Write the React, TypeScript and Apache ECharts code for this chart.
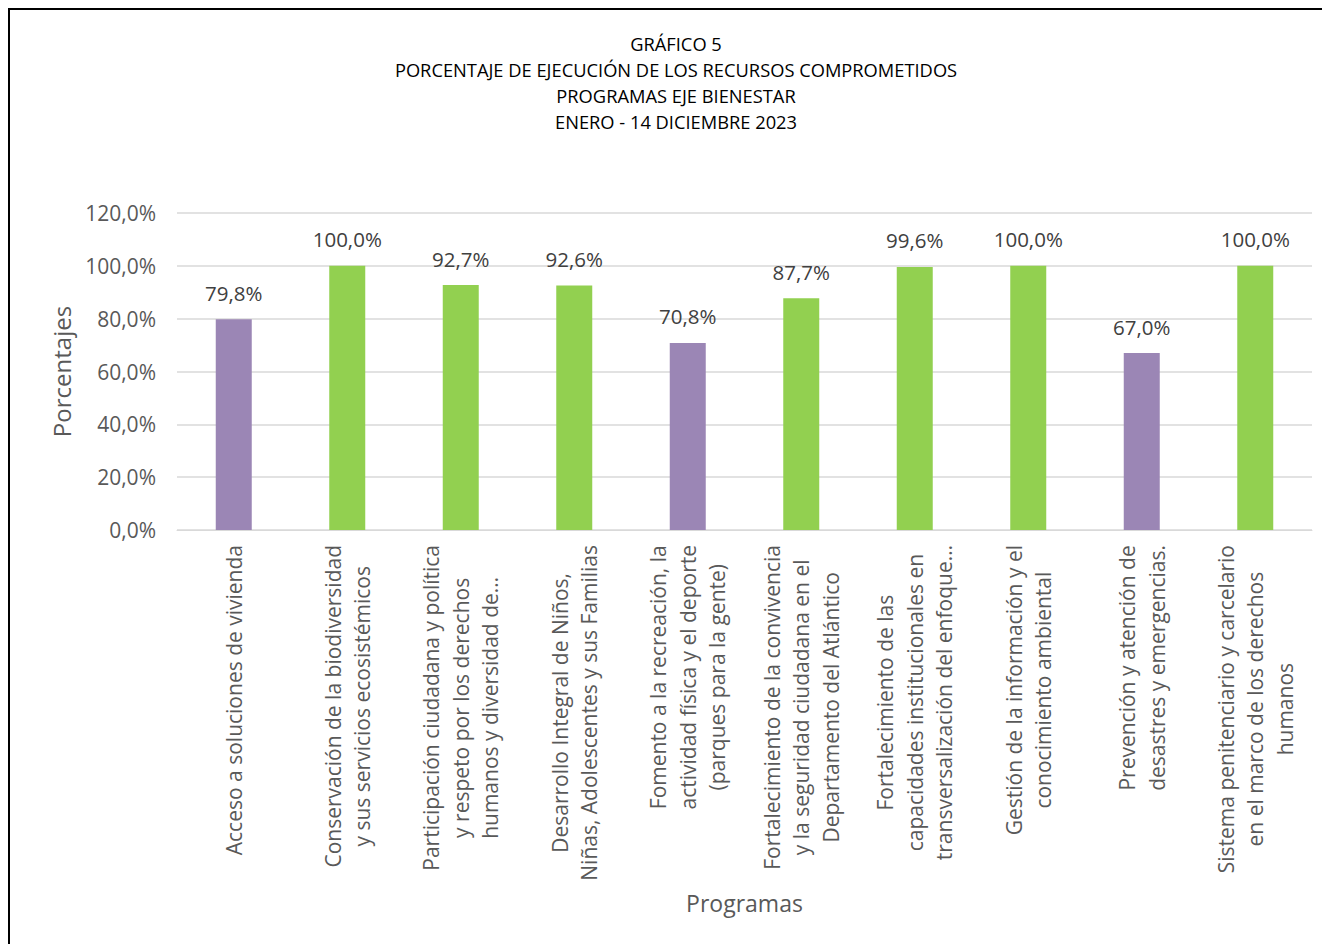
import React, { useEffect, useRef } from "react";
import * as echarts from "echarts";

const titleLines = [
  "GRÁFICO 5",
  "PORCENTAJE DE EJECUCIÓN DE LOS RECURSOS COMPROMETIDOS",
  "PROGRAMAS EJE BIENESTAR",
  "ENERO - 14 DICIEMBRE 2023",
];

const categories = [
  "Acceso a soluciones de vivienda",
  "Conservación de la biodiversidad\ny sus servicios ecosistémicos",
  "Participación ciudadana y política\ny respeto por los derechos\nhumanos y diversidad de…",
  "Desarrollo Integral de Niños,\nNiñas, Adolescentes y sus Familias",
  "Fomento a la recreación, la\nactividad física y el deporte\n(parques para la gente)",
  "Fortalecimiento de la convivencia\ny la seguridad ciudadana en el\nDepartamento del Atlántico",
  "Fortalecimiento de las\ncapacidades institucionales en\ntransversalización del enfoque…",
  "Gestión de la información y el\nconocimiento ambiental",
  "Prevención y atención de\ndesastres y emergencias.",
  "Sistema penitenciario y carcelario\nen el marco de los derechos\nhumanos",
];

const values = [79.8, 100.0, 92.7, 92.6, 70.8, 87.7, 99.6, 100.0, 67.0, 100.0];

// which bars are drawn in purple
const purpleIdx = [0, 4, 8];

const yAxisName = "Porcentajes";
const xAxisName = "Programas";

const PURPLE = "#9B86B5";
const GREEN = "#92D050";
const FONT = "'Open Sans', Lato, sans-serif";

const fmtPct = (v: number) => v.toFixed(1).replace(".", ",") + "%";

export default function App() {
  const ref = useRef<HTMLDivElement>(null);

  useEffect(() => {
    if (!ref.current) return;
    const chart = echarts.init(ref.current, undefined, { renderer: "svg" });
    chart.setOption({
      animation: false,
      backgroundColor: "#ffffff",
      textStyle: { fontFamily: FONT },
      title: {
        text: titleLines.join("\n"),
        left: 661,
        top: 15,
        textAlign: "center",
        textStyle: {
          fontFamily: FONT,
          fontSize: 18.3,
          fontWeight: "normal",
          color: "#000000",
          lineHeight: 26,
        },
      },
      grid: { left: 167, right: 18, top: 203, bottom: 414, containLabel: false },
      xAxis: {
        type: "category",
        data: categories,
        name: xAxisName,
        nameLocation: "middle",
        nameGap: 361,
        nameTextStyle: { fontFamily: FONT, fontSize: 23, color: "#595959" },
        axisLine: { show: true, lineStyle: { color: "#D9D9D9", width: 1 } },
        axisTick: { show: false },
        axisLabel: {
          interval: 0,
          rotate: 90,
          margin: 15,
          formatter: (v: string) =>
            v
              .split("\n")
              .map((l) => `{c|${l}}`)
              .join("\n"),
          rich: {
            c: {
              align: "center",
              fontFamily: FONT,
              fontSize: 21,
              color: "#595959",
              lineHeight: 29.5,
            },
          },
        },
      },
      yAxis: {
        type: "value",
        min: 0,
        max: 120,
        interval: 20,
        name: yAxisName,
        nameLocation: "middle",
        nameGap: 104,
        nameRotate: 90,
        nameTextStyle: { fontFamily: FONT, fontSize: 24, color: "#595959" },
        axisLine: { show: false },
        axisTick: { show: false },
        axisLabel: {
          margin: 21,
          fontFamily: FONT,
          fontSize: 21,
          color: "#595959",
          formatter: (v: number) => fmtPct(v),
        },
        splitLine: { lineStyle: { color: "#D9D9D9", width: 1.5 } },
      },
      series: [
        {
          type: "bar",
          barWidth: 36,
          data: values.map((v, i) => ({
            value: v,
            itemStyle: { color: purpleIdx.includes(i) ? PURPLE : GREEN },
          })),
          label: {
            show: true,
            position: "top",
            distance: 16,
            fontFamily: FONT,
            fontSize: 20.5,
            color: "#404040",
            formatter: (p: any) => fmtPct(p.value),
          },
        },
      ],
    });
    return () => chart.dispose();
  }, []);

  return (
    <div
      style={{
        position: "relative",
        width: 1322,
        height: 936,
        boxSizing: "border-box",
        borderLeft: "2px solid #000",
        borderTop: "2px solid #000",
        background: "#fff",
      }}
    >
      <div ref={ref} style={{ width: 1320, height: 934 }} />
    </div>
  );
}
